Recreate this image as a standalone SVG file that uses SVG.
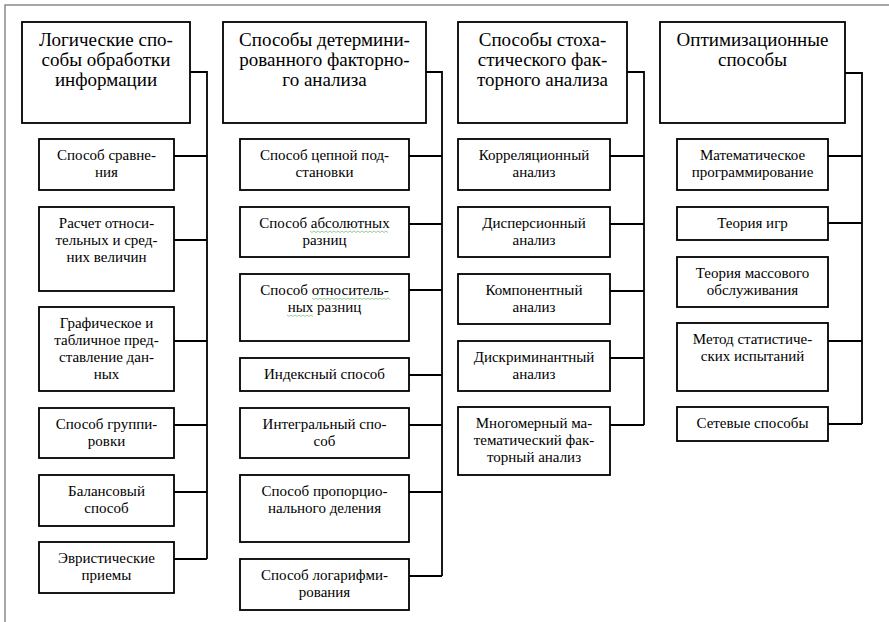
<svg xmlns="http://www.w3.org/2000/svg" width="889" height="622" viewBox="0 0 889 622">
<style>
  .frame { stroke: #8a8a8a; stroke-width: 1.5; fill: none; }
  .box { fill: #fff; stroke: #000; stroke-width: 1.8; }
  .hd { font-family: "Liberation Serif", "Times New Roman", serif; font-size: 19px; fill: #000; text-anchor: middle; }
  .tx { font-family: "Liberation Serif", "Times New Roman", serif; font-size: 15px; fill: #000; text-anchor: middle; }
  .conn { stroke: #000; stroke-width: 1.8; fill: none; }
  .spell { stroke: #7ac27a; stroke-width: 0.8; fill: none; }
</style>
<rect width="889" height="622" fill="#fff"/>
<path class="frame" d="M5,622 V5 H889"/>

<g id="connectors">
  <path class="conn" d="M190,72 H207 V559 M174,156 H207 M174,240 H207 M174,341 H207 M174,425 H207 M174,492 H207 M174,559 H207"/>
  <path class="conn" d="M426,72 H442 V576 M409,156 H442 M409,224 H442 M409,290 H442 M409,375 H442 M409,425 H442 M409,492 H442 M409,576 H442"/>
  <path class="conn" d="M627,72 H644 V425 M610,156 H644 M610,224 H644 M610,291 H644 M610,358 H644 M610,425 H644"/>
  <path class="conn" d="M845,73 H862 V424 M828,156 H862 M828,223 H862 M828,341 H862 M828,424 H862"/>
</g>

<!-- Column 1 -->
<g id="h1"><rect class="box" x="22" y="22" width="168" height="101"/>
  <text class="hd" x="106" y="46">Логические спо-</text><text class="hd" x="106" y="66">собы обработки</text><text class="hd" x="106" y="86">информации</text></g>
<g id="c1n1"><rect class="box" x="39" y="139" width="135" height="51"/>
  <text class="tx" x="106.5" y="160">Способ сравне-</text><text class="tx" x="106.5" y="177">ния</text></g>
<g id="c1n2"><rect class="box" x="39" y="207" width="135" height="84"/>
  <text class="tx" x="106.5" y="228">Расчет относи-</text><text class="tx" x="106.5" y="245">тельных и сред-</text><text class="tx" x="106.5" y="262">них величин</text></g>
<g id="c1n3"><rect class="box" x="39" y="307" width="135" height="84"/>
  <text class="tx" x="106.5" y="328">Графическое и</text><text class="tx" x="106.5" y="345">табличное пред-</text><text class="tx" x="106.5" y="362">ставление дан-</text><text class="tx" x="106.5" y="379">ных</text></g>
<g id="c1n4"><rect class="box" x="39" y="408" width="135" height="50"/>
  <text class="tx" x="106.5" y="429">Способ группи-</text><text class="tx" x="106.5" y="446">ровки</text></g>
<g id="c1n5"><rect class="box" x="39" y="475" width="135" height="51"/>
  <text class="tx" x="106.5" y="496">Балансовый</text><text class="tx" x="106.5" y="513">способ</text></g>
<g id="c1n6"><rect class="box" x="39" y="542" width="135" height="51"/>
  <text class="tx" x="106.5" y="563">Эвристические</text><text class="tx" x="106.5" y="580">приемы</text></g>

<!-- Column 2 -->
<g id="h2"><rect class="box" x="223" y="22" width="203" height="101"/>
  <text class="hd" x="324.5" y="46">Способы детермини-</text><text class="hd" x="324.5" y="66">рованного факторно-</text><text class="hd" x="324.5" y="86">го анализа</text></g>
<g id="c2n1"><rect class="box" x="240" y="139" width="169" height="51"/>
  <text class="tx" x="324.5" y="160">Способ цепной под-</text><text class="tx" x="324.5" y="177">становки</text></g>
<g id="c2n2"><rect class="box" x="240" y="207" width="169" height="50"/>
  <text class="tx" x="324.5" y="228">Способ абсолютных</text><text class="tx" x="324.5" y="245">разниц</text>
  <path class="spell" d="M310,231 l2,1.5 l2,-1.5 l2,1.5 l2,-1.5 l2,1.5 l2,-1.5 l2,1.5 l2,-1.5 l2,1.5 l2,-1.5 l2,1.5 l2,-1.5 l2,1.5 l2,-1.5 l2,1.5 l2,-1.5 l2,1.5 l2,-1.5 l2,1.5 l2,-1.5 l2,1.5 l2,-1.5 l2,1.5 l2,-1.5 l2,1.5 l2,-1.5 l2,1.5 l2,-1.5 l2,1.5 l2,-1.5 l2,1.5 l2,-1.5 l2,1.5 l2,-1.5 l2,1.5 l2,-1.5 l2,1.5 l2,-1.5 l2,1.5"/></g>
<g id="c2n3"><rect class="box" x="240" y="274" width="169" height="67"/>
  <text class="tx" x="324.5" y="295">Способ относитель-</text><text class="tx" x="324.5" y="312">ных разниц</text>
  <path class="spell" d="M312,298 l2,1.5 l2,-1.5 l2,1.5 l2,-1.5 l2,1.5 l2,-1.5 l2,1.5 l2,-1.5 l2,1.5 l2,-1.5 l2,1.5 l2,-1.5 l2,1.5 l2,-1.5 l2,1.5 l2,-1.5 l2,1.5 l2,-1.5 l2,1.5 l2,-1.5 l2,1.5 l2,-1.5 l2,1.5 l2,-1.5 l2,1.5 l2,-1.5 l2,1.5 l2,-1.5 l2,1.5 l2,-1.5 l2,1.5 l2,-1.5 l2,1.5 l2,-1.5 l2,1.5 l2,-1.5 l2,1.5 l2,-1.5 l2,1.5"/>
  <path class="spell" d="M287,315 l2,1.5 l2,-1.5 l2,1.5 l2,-1.5 l2,1.5 l2,-1.5 l2,1.5 l2,-1.5 l2,1.5 l2,-1.5 l2,1.5 l2,-1.5 l2,1.5"/></g>
<g id="c2n4"><rect class="box" x="240" y="358" width="169" height="33"/>
  <text class="tx" x="324.5" y="379">Индексный способ</text></g>
<g id="c2n5"><rect class="box" x="240" y="408" width="169" height="50"/>
  <text class="tx" x="324.5" y="429">Интегральный спо-</text><text class="tx" x="324.5" y="446">соб</text></g>
<g id="c2n6"><rect class="box" x="240" y="475" width="169" height="67"/>
  <text class="tx" x="324.5" y="496">Способ пропорцио-</text><text class="tx" x="324.5" y="513">нального деления</text></g>
<g id="c2n7"><rect class="box" x="240" y="559" width="169" height="51"/>
  <text class="tx" x="324.5" y="580">Способ логарифми-</text><text class="tx" x="324.5" y="597">рования</text></g>

<!-- Column 3 -->
<g id="h3"><rect class="box" x="458" y="22" width="169" height="101"/>
  <text class="hd" x="542.5" y="46">Способы стоха-</text><text class="hd" x="542.5" y="66">стического фак-</text><text class="hd" x="542.5" y="86">торного анализа</text></g>
<g id="c3n1"><rect class="box" x="458" y="139" width="152" height="51"/>
  <text class="tx" x="534" y="160">Корреляционный</text><text class="tx" x="534" y="177">анализ</text></g>
<g id="c3n2"><rect class="box" x="458" y="207" width="152" height="50"/>
  <text class="tx" x="534" y="228">Дисперсионный</text><text class="tx" x="534" y="245">анализ</text></g>
<g id="c3n3"><rect class="box" x="458" y="274" width="152" height="50"/>
  <text class="tx" x="534" y="295">Компонентный</text><text class="tx" x="534" y="312">анализ</text></g>
<g id="c3n4"><rect class="box" x="458" y="341" width="152" height="50"/>
  <text class="tx" x="534" y="362">Дискриминантный</text><text class="tx" x="534" y="379">анализ</text></g>
<g id="c3n5"><rect class="box" x="458" y="407" width="152" height="68"/>
  <text class="tx" x="534" y="428">Многомерный ма-</text><text class="tx" x="534" y="445">тематический фак-</text><text class="tx" x="534" y="462">торный анализ</text></g>

<!-- Column 4 -->
<g id="h4"><rect class="box" x="660" y="22" width="185" height="101"/>
  <text class="hd" x="752.5" y="46">Оптимизационные</text><text class="hd" x="752.5" y="66">способы</text></g>
<g id="c4n1"><rect class="box" x="677" y="139" width="151" height="51"/>
  <text class="tx" x="752.5" y="160">Математическое</text><text class="tx" x="752.5" y="177">программирование</text></g>
<g id="c4n2"><rect class="box" x="677" y="207" width="151" height="33"/>
  <text class="tx" x="752.5" y="228">Теория игр</text></g>
<g id="c4n3"><rect class="box" x="677" y="257" width="151" height="50"/>
  <text class="tx" x="752.5" y="278">Теория массового</text><text class="tx" x="752.5" y="295">обслуживания</text></g>
<g id="c4n4"><rect class="box" x="677" y="323" width="151" height="68"/>
  <text class="tx" x="752.5" y="344">Метод статистиче-</text><text class="tx" x="752.5" y="361">ских испытаний</text></g>
<g id="c4n5"><rect class="box" x="677" y="407" width="151" height="34"/>
  <text class="tx" x="752.5" y="428">Сетевые способы</text></g>
</svg>
